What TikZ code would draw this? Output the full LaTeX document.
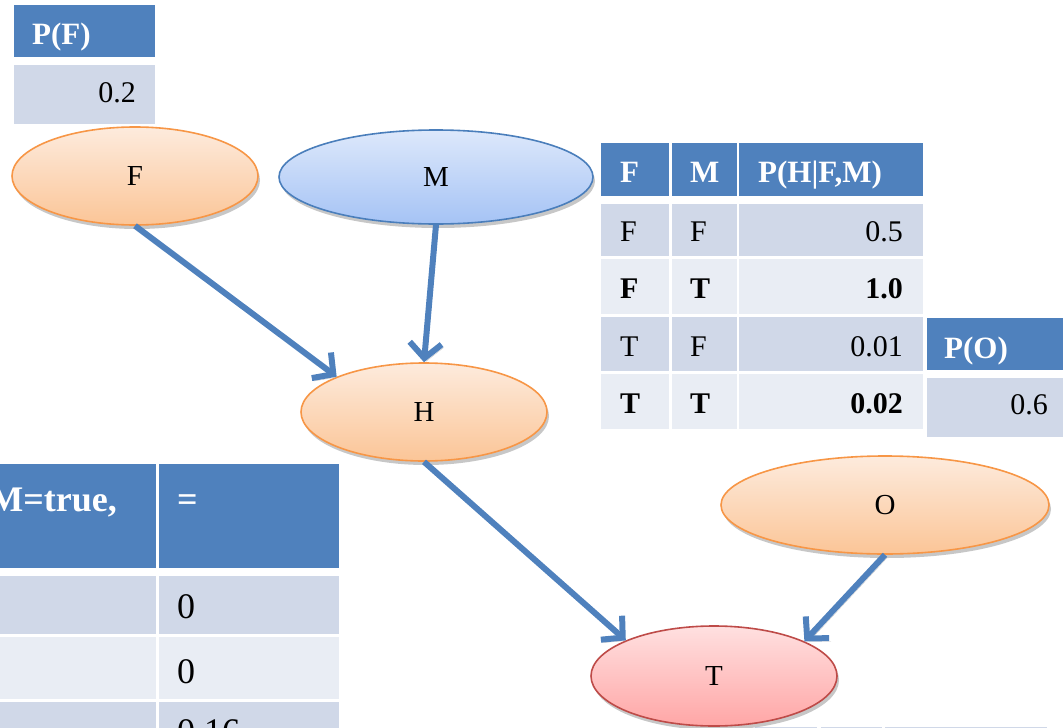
\documentclass[tikz,border=0pt]{standalone}
\usepackage{fontspec}
\setmainfont{Liberation Serif}
\usetikzlibrary{shapes.geometric,shadows,arrows.meta}

\definecolor{hdblue}{HTML}{4F81BD}
\definecolor{rowA}{HTML}{D0D8E8}
\definecolor{rowB}{HTML}{E9EDF4}
\definecolor{linkblue}{HTML}{4F81BD}
\definecolor{orTop}{HTML}{FDEBDD}
\definecolor{orBot}{HTML}{FBC597}
\definecolor{orLine}{HTML}{F79646}
\definecolor{blTop}{HTML}{DDE8FB}
\definecolor{blBot}{HTML}{A5C3F5}
\definecolor{blLine}{HTML}{4A7EBB}
\definecolor{rdTop}{HTML}{FFE0E0}
\definecolor{rdBot}{HTML}{FFA6A6}
\definecolor{rdLine}{HTML}{BE4B48}

\tikzset{
  hd/.style={fill=hdblue},
  ra/.style={fill=rowA},
  rb/.style={fill=rowB},
  txt/.style={inner sep=0pt, font=\fontsize{30}{36}\selectfont},
  btxt/.style={inner sep=0pt, font=\fontsize{30}{36}\selectfont\bfseries},
  htxt/.style={inner sep=0pt, text=white, font=\fontsize{31}{36}\selectfont\bfseries},
  bigtxt/.style={inner sep=0pt, font=\fontsize{36}{42}\selectfont},
  bighd/.style={inner sep=0pt, text=white, font=\fontsize{36}{42}\selectfont\bfseries},
  ell/.style={ellipse, inner sep=0pt, line width=1.6pt,
    drop shadow={shadow xshift=2pt, shadow yshift=-4pt, fill=black, opacity=0.22},
    font=\fontsize{29}{34}\selectfont},
  orng/.style={ell, top color=orTop, bottom color=orBot, draw=orLine},
  blu/.style={ell, top color=blTop, bottom color=blBot, draw=blLine},
  rd/.style={ell, top color=rdTop, bottom color=rdBot, draw=rdLine},
  link/.style={draw=linkblue, line width=6pt,
    -{Straight Barb[length=15pt,width=32pt]},
    preaction={draw=black!22, transform canvas={xshift=2pt,yshift=-3pt}}}
}

% a filled table cell: style, x1, y1, x2, y2
\newcommand{\tcell}[5]{\fill[#1] (#2,#3) rectangle (#4,#5);}

\begin{document}
\begin{tikzpicture}[x=1pt,y=-1pt]
\useasboundingbox (0,0) rectangle (1063,728);

% ---- prior of F ----
\tcell{hd}{14}{5}{155}{57}
\tcell{ra}{14}{65}{155}{124}
\node[htxt, anchor=base west] (pfh) at (32,44) {P(F)};
\node[txt, anchor=base east] (pfv) at (136,102) {0.2};

% ---- conditional table of H ----
\tcell{hd}{601}{143}{669}{196}
\tcell{hd}{672}{143}{737}{196}
\tcell{hd}{739}{143}{923}{196}
\tcell{ra}{601}{204}{669}{256}
\tcell{ra}{672}{204}{737}{256}
\tcell{ra}{739}{204}{923}{256}
\tcell{rb}{601}{259}{669}{314}
\tcell{rb}{672}{259}{737}{314}
\tcell{rb}{739}{259}{923}{314}
\tcell{ra}{601}{317}{669}{371}
\tcell{ra}{672}{317}{737}{371}
\tcell{ra}{739}{317}{923}{371}
\tcell{rb}{601}{374}{669}{429}
\tcell{rb}{672}{374}{737}{429}
\tcell{rb}{739}{374}{923}{429}
\node[htxt, anchor=base west] (h1) at (620,182) {F};
\node[htxt, anchor=base west] (h2) at (690,182) {M};
\node[htxt, anchor=base west] (h3) at (758,182) {P(H|F,M)};
\node[txt, anchor=base west] (r1a) at (620,241) {F};
\node[txt, anchor=base west] (r1b) at (690,241) {F};
\node[txt, anchor=base east] (r1c) at (903,241) {0.5};
\node[btxt, anchor=base west] (r2a) at (620,298) {F};
\node[btxt, anchor=base west] (r2b) at (690,298) {T};
\node[btxt, anchor=base east] (r2c) at (903,298) {1.0};
\node[txt, anchor=base west] (r3a) at (620,356) {T};
\node[txt, anchor=base west] (r3b) at (690,356) {F};
\node[txt, anchor=base east] (r3c) at (903,356) {0.01};
\node[btxt, anchor=base west] (r4a) at (620,413) {T};
\node[btxt, anchor=base west] (r4b) at (690,413) {T};
\node[btxt, anchor=base east] (r4c) at (903,413) {0.02};

% ---- prior of O ----
\tcell{hd}{927}{318}{1070}{370}
\tcell{ra}{927}{378}{1070}{437}
\node[htxt, anchor=base west] (poh) at (944,358) {P(O)};
\node[txt, anchor=base east] (pov) at (1048,414) {0.6};

% ---- query table, lower left ----
\tcell{hd}{-20}{464}{156}{568}
\tcell{hd}{159}{464}{339}{568}
\tcell{ra}{-20}{576}{156}{634}
\tcell{ra}{159}{576}{339}{634}
\tcell{rb}{-20}{637}{156}{699}
\tcell{rb}{159}{637}{339}{699}
\tcell{ra}{-20}{702}{156}{760}
\tcell{ra}{159}{702}{339}{760}
\node[bighd, anchor=base east] (qh1) at (117,511) {M=true,};
\node[bighd, anchor=base west] (qh2) at (177,511) {=};
\node[bigtxt, anchor=base west] (q1) at (177,618) {0};
\node[bigtxt, anchor=base west] (q2) at (177,683) {0};
\node[bigtxt, anchor=base west] (q3) at (177,743) {0.16};

% ---- table edge, lower right ----
\tcell{ra}{755}{727}{817}{740}
\tcell{ra}{821}{727}{882}{740}
\tcell{ra}{885}{727}{1047}{740}

% ---- network nodes ----
\node[orng, minimum width=246pt, minimum height=98pt] (F) at (135,176) {F};
\node[blu,  minimum width=314pt, minimum height=94pt] (M) at (436,177) {M};
\node[orng, minimum width=246pt, minimum height=98pt] (H) at (424,412) {H};
\node[orng, minimum width=328pt, minimum height=98pt] (O) at (885,505) {O};
\node[rd,   minimum width=246pt, minimum height=100pt] (T) at (714,676) {T};

% ---- dependencies ----
\draw[link] (F.south) -- (H.158);
\draw[link] (M.south) -- (H.90);
\draw[link] (H.south) -- (T.158);
\draw[link] (O.south) -- (T.21);

\end{tikzpicture}
\end{document}
